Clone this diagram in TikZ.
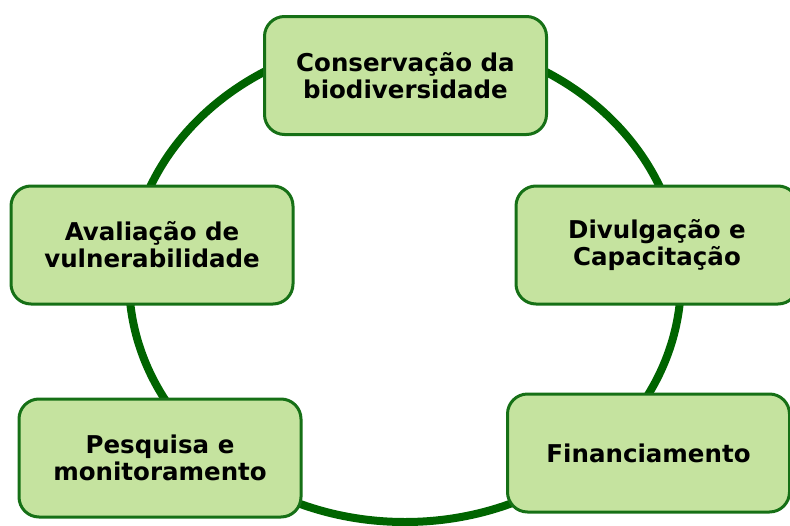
\documentclass[tikz,border=0pt]{standalone}
\usepackage{fontspec}
\setmainfont{DejaVu Sans}
\usetikzlibrary{positioning}
\definecolor{ringgreen}{RGB}{0,100,0}
\definecolor{boxline}{RGB}{22,112,22}
\definecolor{boxfill}{RGB}{197,227,159}

\begin{document}
\begin{tikzpicture}[x=1pt, y=-1pt,
  font=\fontsize{24.5}{27}\selectfont\bfseries,
  topic/.style={draw=boxline, line width=3pt, fill=boxfill, rounded corners=20pt, minimum width=282pt, minimum height=118pt, align=center, inner sep=4pt},
  ring/.style={draw=ringgreen, line width=8pt}]
\useasboundingbox (0,0) rectangle (790,525);
\clip (0,0) rectangle (790,525);
% ---------------- ring behind the topics ----------------
\coordinate (mid) at (405,280);
\draw[ring] (mid) ellipse [x radius=276, y radius=242];
% ---------------- topics ----------------
\node[topic] (cons) at (405.5,75.5) {Conservação da\\biodiversidade};
\node[topic] (divu) at (657,245) {Divulgação e\\Capacitação};
\node[topic] (fin)  at (648.5,453) {Financiamento};
\node[topic] (pesq) at (160,458) {Pesquisa e\\monitoramento};
\node[topic] (aval) at (152,245) {Avaliação de\\vulnerabilidade};
\end{tikzpicture}
\end{document}
